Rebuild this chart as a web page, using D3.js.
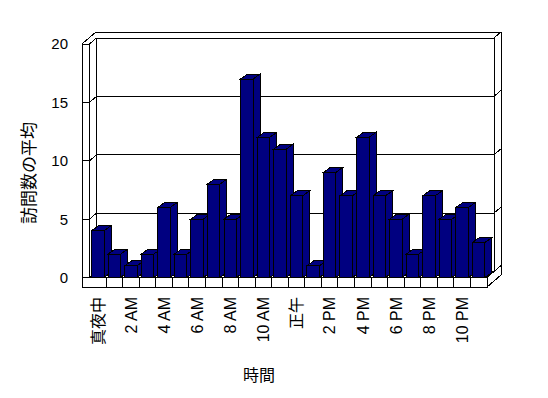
<!DOCTYPE html>
<html>
<head>
<meta charset="utf-8">
<script src="https://cdn.jsdelivr.net/npm/d3@7"></script>
<style>
  body { margin: 0; background: #fff; }
  text { font-family: "Liberation Sans", Arial, "Noto Sans CJK JP", sans-serif; fill: #000; }
</style>
</head>
<body>
<svg id="canvas" width="548" height="398"></svg>
<script>
// hours of the day (labels shown every other hour)
const hours = ["真夜中", "1 AM", "2 AM", "3 AM", "4 AM", "5 AM", "6 AM", "7 AM", "8 AM", "9 AM", "10 AM", "11 AM",
    "正午", "1 PM", "2 PM", "3 PM", "4 PM", "5 PM", "6 PM", "7 PM", "8 PM", "9 PM", "10 PM", "11 PM"];
// average visits per hour
const visits = [4, 2, 1, 2, 6, 2, 5, 8, 5, 17, 12, 11, 7, 1, 9, 7, 12, 7, 5, 2, 7, 5, 6, 3];
const yTicks = [0, 5, 10, 15, 20];
const yTitle = "訪問数の平均";
const xTitle = "時間";

const DX = 7, DY = -6;          // depth of the box, one unit
const BDX = 7, BDY = -5;        // depth of a bar
const WALL_LEFT = 82;
const FLOOR_BOTTOM = 287;
const BAR_FILL = "#000080";

var svg = d3.select("#canvas");

var x = d3.scaleBand().domain(hours).range([89.5, 487]);
var y = d3.scaleLinear().domain([0, 20]).range([277.5, 44]);

var x0 = x.range()[0], x1 = x.range()[1];
var yTop = y(20), yBase = y(0);

var box = svg.append("g")
    .attr("fill", "none")
    .attr("stroke", "#000")
    .attr("stroke-width", 1)
    .attr("shape-rendering", "crispEdges");

// back wall face + left wall inner corner
box.append("path")
    .attr("d", "M" + (x0 + DX) + "," + (yTop + DY) + " V" + (yBase + DY) + " H" + (x1 + DX));

// grid lines running over the left wall, back wall and right edge
box.selectAll(".grid")
    .data(yTicks)
    .enter().append("path")
    .attr("class", "grid")
    .attr("d", function(v) {
        var yy = y(v);
        return "M" + WALL_LEFT + "," + yy + " H" + x0 +
            " L" + (x0 + DX) + "," + (yy + DY) +
            " H" + (x1 + DX) +
            " L" + (x1 + 2 * DX) + "," + (yy + 2 * DY);
    });

// left wall inner front edge
box.append("line")
    .attr("x1", x0).attr("y1", yTop)
    .attr("x2", x0).attr("y2", yBase);

// back wall right front edge
box.append("line")
    .attr("x1", x1 + DX).attr("y1", yTop + DY)
    .attr("x2", x1 + DX).attr("y2", yBase + DY);

// floor top right edge
box.append("line")
    .attr("x1", x1).attr("y1", yBase)
    .attr("x2", x1 + DX).attr("y2", yBase + DY);

// bars, left to right so the next front face covers the previous side
var bars = svg.append("g")
    .attr("fill", BAR_FILL)
    .attr("stroke", "#000")
    .attr("shape-rendering", "crispEdges");

var BAR_OFF = 2, BAR_W = 12.5;
hours.forEach(function(h, i) {
    var bx = x(h) + BAR_OFF;
    var bt = y(visits[i]);
    var g = bars.append("g");
    // side
    g.append("path").attr("d",
        "M" + (bx + BAR_W) + "," + bt +
        " L" + (bx + BAR_W + BDX) + "," + (bt + BDY) +
        " V" + (yBase + BDY) +
        " L" + (bx + BAR_W) + "," + yBase + " Z");
    // top
    g.append("path").attr("d",
        "M" + bx + "," + bt +
        " H" + (bx + BAR_W) +
        " L" + (bx + BAR_W + BDX) + "," + (bt + BDY) +
        " H" + (bx + BDX) + " Z");
    // front
    g.append("rect")
        .attr("x", bx).attr("y", bt)
        .attr("width", BAR_W).attr("height", yBase - bt);
});

// floor front face with category ticks
var front = svg.append("g")
    .attr("fill", "none")
    .attr("stroke", "#000")
    .attr("shape-rendering", "crispEdges");
front.append("rect")
    .attr("x", WALL_LEFT).attr("y", yBase)
    .attr("width", x1 - WALL_LEFT).attr("height", FLOOR_BOTTOM - yBase)
    .attr("fill", "#fff");
front.selectAll(".tick")
    .data(hours.slice(1))
    .enter().append("line")
    .attr("x1", function(h) { return x(h); })
    .attr("x2", function(h) { return x(h); })
    .attr("y1", yBase).attr("y2", FLOOR_BOTTOM);

// outer outline of the box
front.append("path")
    .attr("d", "M" + WALL_LEFT + "," + FLOOR_BOTTOM +
        " V" + yTop +
        " L" + (WALL_LEFT + 2 * DX) + "," + (yTop + 2 * DY) +
        " H" + (x1 + 2 * DX) +
        " V" + (FLOOR_BOTTOM + 2 * DY) +
        " L" + x1 + "," + FLOOR_BOTTOM +
        " V" + yBase);
front.append("line")
    .attr("x1", WALL_LEFT).attr("y1", yTop)
    .attr("x2", x0).attr("y2", yTop);

// y tick labels
svg.selectAll(".ylab")
    .data(yTicks)
    .enter().append("text")
    .attr("class", "ylab")
    .attr("x", 68)
    .attr("y", function(v) { return y(v); })
    .attr("dy", "0.36em")
    .attr("text-anchor", "end")
    .attr("font-size", 15)
    .text(function(v) { return v; });

// x tick labels, every second hour, rotated
svg.selectAll(".xlab")
    .data(hours.filter(function(h, i) { return i % 2 == 0; }))
    .enter().append("text")
    .attr("class", "xlab")
    .attr("transform", function(h) {
        return "translate(" + (x(h) + x.bandwidth() / 2) + ",297) rotate(-90)";
    })
    .attr("dy", "0.36em")
    .attr("text-anchor", "end")
    .attr("font-size", 16)
    .attr("fill", "#000")
    .text(function(h) { return h; });

// axis titles
svg.append("text")
    .attr("transform", "translate(29,173) rotate(-90)")
    .attr("dy", "0.36em")
    .attr("text-anchor", "middle")
    .attr("font-size", 17)
    .text(yTitle);

svg.append("text")
    .attr("x", 259)
    .attr("y", 381)
    .attr("text-anchor", "middle")
    .attr("font-size", 16)
    .text(xTitle);
</script>
</body>
</html>
